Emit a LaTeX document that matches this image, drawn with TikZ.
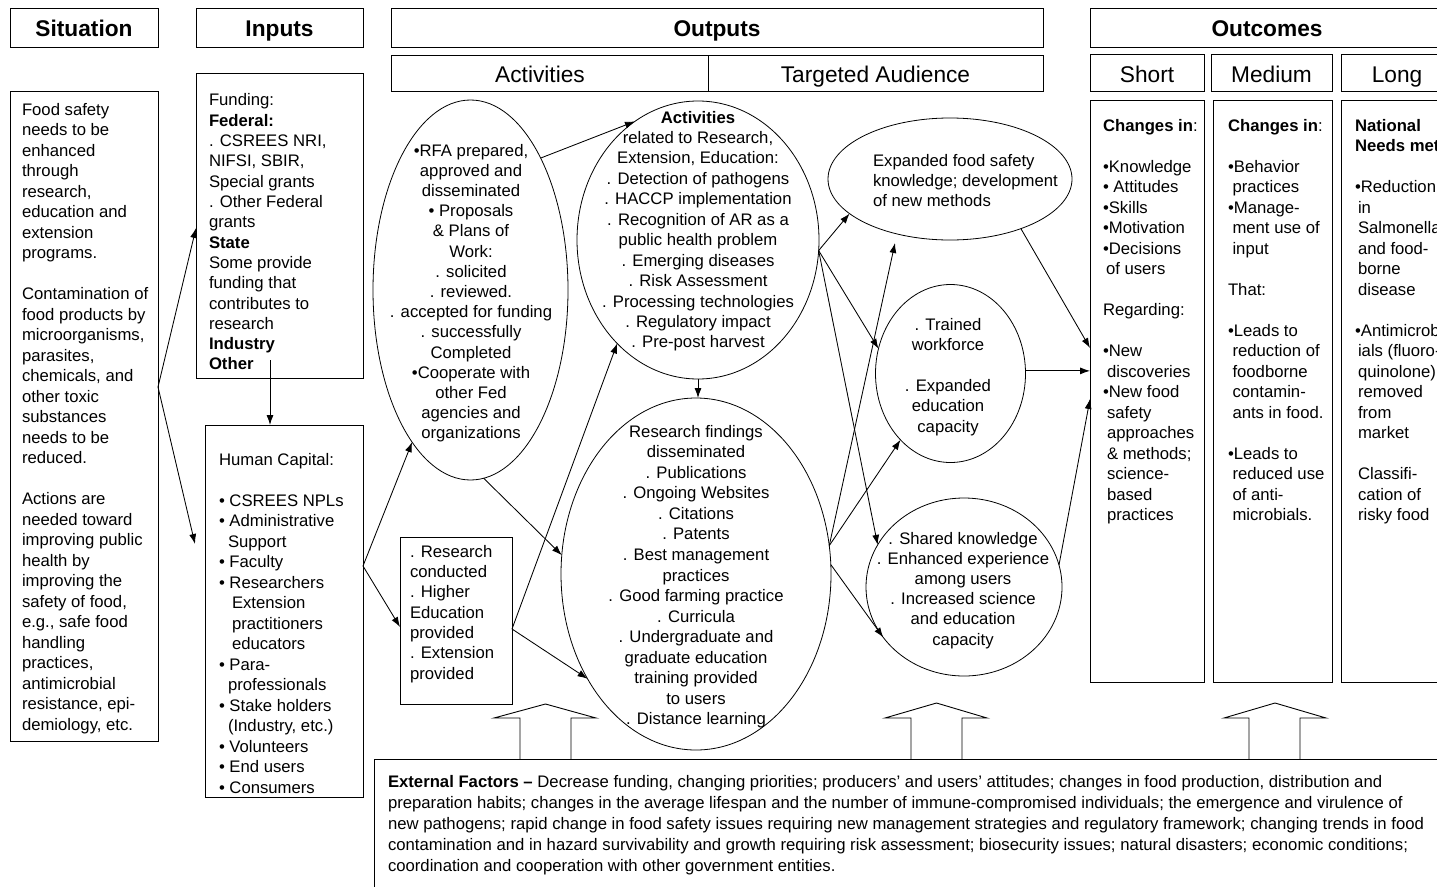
\documentclass[tikz,border=0pt]{standalone}
\usepackage{fontspec}
\setmainfont{Liberation Sans}
\usetikzlibrary{arrows.meta,shapes.geometric}

% body font with a chosen line spacing
\newcommand\fs[1]{\fontsize{16.7}{#1}\selectfont}
% fixed first-line height so that node tops map to baselines
\newcommand\ts{\rule{0pt}{14pt}}

\begin{document}
\begin{tikzpicture}[x=1pt,y=-1pt,
  frame/.style={draw, line width=1pt, inner sep=0pt, outer sep=0pt},
  hbold/.style={frame, font=\fontsize{22.7}{26}\selectfont\bfseries, text height=18.4pt, text depth=0pt},
  hreg/.style={frame, font=\fontsize{22.7}{26}\selectfont, text height=19pt, text depth=0pt},
  oval/.style={draw, ellipse, line width=0.8pt, inner sep=0pt, outer sep=0pt},
  txt/.style={inner sep=0pt, outer sep=0pt},
  conn/.style={-{Latex[length=10pt,width=7pt]}, line width=0.85pt},
  block/.style={line width=0.9pt, line join=miter},
]
\useasboundingbox (0,0) rectangle (1437,886);
\fill[white] (0,0) rectangle (1437,886);
\clip (0,0) rectangle (1437,886);

% ---------- column headers ----------
\node[hbold, minimum width=148pt, minimum height=39pt] (sitH) at (84,27.5) {Situation};
\node[hbold, minimum width=167pt, minimum height=39pt] (inH) at (279.5,27.5) {Inputs};
\node[hbold, minimum width=652pt, minimum height=39pt] (outH) at (717,27.5) {Outputs};
\node[hbold, minimum width=354pt, minimum height=39pt] (ocH) at (1267,27.5) {Outcomes};
\node[hreg, minimum width=317pt, minimum height=36pt] (actH) at (549.5,73) {\hspace*{-19pt}Activities};
\node[hreg, minimum width=335pt, minimum height=36pt] (audH) at (875.5,73) {Targeted Audience};
\node[hreg, minimum width=114pt, minimum height=37pt] (shortH) at (1147,72.5) {Short};
\node[hreg, minimum width=121pt, minimum height=37pt] (medH) at (1271.5,72.5) {Medium};
\node[hreg, minimum width=112pt, minimum height=37pt] (longH) at (1397,72.5) {Long};

% ---------- boxes ----------
\node[frame, minimum width=148pt, minimum height=650pt] (sit) at (84,416) {};
\node[frame, minimum width=167pt, minimum height=305pt] (fund) at (279.5,225.5) {};
\node[frame, minimum width=158pt, minimum height=372pt] (hc) at (284,611) {};
\node[frame, minimum width=112pt, minimum height=167pt] (rc) at (456,620.5) {};
\node[frame, minimum width=114pt, minimum height=582pt] (short) at (1147,391) {};
\node[frame, minimum width=119pt, minimum height=582pt] (med) at (1272.5,391) {};
\node[frame, minimum width=119pt, minimum height=582pt] (long) at (1400.5,391) {};
\node[frame, minimum width=1086pt, minimum height=141pt] (ext) at (917,829.5) {};

% ---------- ellipses ----------
\node[oval, minimum width=195pt, minimum height=380pt] (rfa) at (470.5,290) {};
\node[oval, minimum width=242pt, minimum height=278pt] (act) at (698,240) {};
\node[oval, minimum width=270pt, minimum height=352pt] (rf) at (696,574) {};
\node[oval, minimum width=244pt, minimum height=122pt] (efs) at (950,179) {};
\node[oval, minimum width=150pt, minimum height=178pt] (tw) at (950.5,373.5) {};
\node[oval, minimum width=196pt, minimum height=178pt] (sk) at (964,587) {};

% ---------- texts ----------
\node[txt, anchor=north west, align=left, font=\fs{20.5}] (sitT) at (22,101) {\ts Food safety\\needs to be\\enhanced\\through\\research,\\education and\\extension\\programs.\\[20.5pt]Contamination of\\food products by\\microorganisms,\\parasites,\\chemicals, and\\other toxic\\substances\\needs to be\\reduced.\\[20.5pt]Actions are\\needed toward\\improving public\\health by\\improving the\\safety of food,\\e.g., safe food\\handling\\practices,\\antimicrobial\\resistance, epi-\\demiology, etc.};

\node[txt, anchor=north west, align=left, font=\fs{20.33}] (fundT) at (209,91.7) {\ts Funding:\\\textbf{Federal:}\\. CSREES NRI,\\NIFSI, SBIR,\\Special grants\\. Other Federal\\grants\\\textbf{State}\\Some provide\\funding that\\contributes to\\research\\\textbf{Industry}\\\textbf{Other}};

\node[txt, anchor=north west, align=left, font=\fs{20.5}] (hcT) at (219,451) {\ts Human Capital:\\[20.5pt]• CSREES NPLs\\• Administrative\\\hspace*{9pt}Support\\• Faculty\\• Researchers\\\hspace*{13pt}Extension\\\hspace*{13pt}practitioners\\\hspace*{13pt}educators\\• Para-\\\hspace*{9pt}professionals\\• Stake holders\\\hspace*{9pt}(Industry, etc.)\\• Volunteers\\• End users\\• Consumers};

\node[txt, anchor=north west, align=left, font=\fs{20.3}] (rcT) at (410,543.3) {\ts . Research\\conducted\\. Higher\\Education\\provided\\. Extension\\provided};

\node[txt, anchor=north, align=center, font=\fs{20.2}] (rfaT) at (471,142) {\ts •RFA prepared,\\approved and\\disseminated\\• Proposals\\\& Plans of\\Work:\\. solicited\\. reviewed.\\. accepted for funding\\. successfully\\Completed\\•Cooperate with\\other Fed\\agencies and\\organizations};

\node[txt, anchor=north, align=center, font=\fs{20.45}] (actT) at (698,109) {\ts\textbf{Activities}\\related to Research,\\Extension, Education:\\. Detection of pathogens\\. HACCP implementation\\. Recognition of AR as a\\public health problem\\. Emerging diseases\\. Risk Assessment\\. Processing technologies\\. Regulatory impact\\. Pre-post harvest};

\node[txt, anchor=north, align=center, font=\fs{20.57}] (rfT) at (696,423) {\ts Research findings\\disseminated\\. Publications\\. Ongoing Websites\\. Citations\\. Patents\\. Best management\\practices\\. Good farming practice\\. Curricula\\. Undergraduate and\\graduate education\\training provided\\to users\\. Distance learning};

\node[txt, anchor=north west, align=left, font=\fs{20}] (efsT) at (873,152) {\ts Expanded food safety\\knowledge; development\\of new methods};

\node[txt, anchor=north, align=center, font=\fs{20.4}] (twT) at (948,316) {\ts . Trained\\workforce\\[20.4pt]. Expanded\\education\\capacity};

\node[txt, anchor=north, align=center, font=\fs{20.2}] (skT) at (963,530) {\ts . Shared knowledge\\. Enhanced experience\\among users\\. Increased science\\and education\\capacity};

\node[txt, anchor=north west, align=left, font=\fs{20.5}] (shortT) at (1103,117) {\ts\textbf{Changes in}:\\[20.5pt]•Knowledge\\• Attitudes\\•Skills\\•Motivation\\•Decisions\\\hspace*{3pt}of users\\[20.5pt]Regarding:\\[20.5pt]•New\\\hspace*{4pt}discoveries\\•New food\\\hspace*{4pt}safety\\\hspace*{4pt}approaches\\\hspace*{4pt}\& methods;\\\hspace*{4pt}science-\\\hspace*{4pt}based\\\hspace*{4pt}practices};

\node[txt, anchor=north west, align=left, font=\fs{20.5}] (medT) at (1228,117) {\ts\textbf{Changes in}:\\[20.5pt]•Behavior\\\hspace*{4.5pt}practices\\•Manage-\\\hspace*{4.5pt}ment use of\\\hspace*{4.5pt}input\\[20.5pt]That:\\[20.5pt]•Leads to\\\hspace*{4.5pt}reduction of\\\hspace*{4.5pt}foodborne\\\hspace*{4.5pt}contamin-\\\hspace*{4.5pt}ants in food.\\[20.5pt]•Leads to\\\hspace*{4.5pt}reduced use\\\hspace*{4.5pt}of anti-\\\hspace*{4.5pt}microbials.};

\node[txt, anchor=north west, align=left, font=\fs{20.5}] (longT) at (1355,117) {\ts\textbf{National}\\\textbf{Needs met}\\[20.5pt]•Reduction\\\hspace*{3pt}in\\\hspace*{3pt}Salmonella\\\hspace*{3pt}and food-\\\hspace*{3pt}borne\\\hspace*{3pt}disease\\[20.5pt]•Antimicrob-\\\hspace*{3pt}ials (fluoro-\\\hspace*{3pt}quinolone)\\\hspace*{3pt}removed\\\hspace*{3pt}from\\\hspace*{3pt}market\\[20.5pt]\hspace*{3pt}Classifi-\\\hspace*{3pt}cation of\\\hspace*{3pt}risky food};

\node[txt, anchor=north west, align=left, font=\fs{21.2}] (extT) at (388,773) {\ts\textbf{External Factors –} Decrease funding, changing priorities; producers’ and users’ attitudes; changes in food production, distribution and\\preparation habits; changes in the average lifespan and the number of immune-compromised individuals; the emergence and virulence of\\new pathogens; rapid change in food safety issues requiring new management strategies and regulatory framework; changing trends in food\\contamination and in hazard survivability and growth requiring risk assessment; biosecurity issues; natural disasters; economic conditions;\\coordination and cooperation with other government entities.};

% ---------- connectors ----------
\draw[conn] ([yshift=29pt]sit.east) -- ([yshift=-2.5pt]fund.west);
\draw[conn] ([yshift=29pt]sit.east) -- ([xshift=-10pt,yshift=67pt]hc.west);
\draw[conn] ([xshift=-9.5pt,yshift=18pt]fund.south) -- ([xshift=-14pt]hc.north);
\draw[conn] ([yshift=45pt]hc.east) -- (rfa.249);
\draw[conn] ([yshift=45pt]hc.east) -- ([yshift=-6.5pt]rc.west);
\draw[conn] ([yshift=-8.5pt]rc.east) -- (act.232);
\draw[conn] ([yshift=-8.5pt]rc.east) -- (rf.224.5);
\draw[conn] (rfa.62) -- (act.118);
\draw[conn] (act.south) -- (act.south |- rf.north);
\draw[conn] (rfa.274) -- (rf.172);
\draw[conn] (act.-5) -- (efs.199);
\draw[conn] (act.-5) -- (tw.161);
\draw[conn] (act.-5) -- (sk.154);
\draw[conn] (rf.12) -- ([xshift=-55pt,yshift=-3pt]efs.south);
\draw[conn] (rf.12) -- (tw.233);
\draw[conn] (rf.4) -- (sk.212);
\draw[conn] (efs.-35) -- ([yshift=43pt]short.west);
\draw[conn] (tw.2) -- (tw.2 -| short.west);
\draw[conn] (sk.13) -- ([yshift=-8pt]short.west);

% ---------- hollow up-arrows standing on the external factors box ----------
\draw[block] (520,759) -- (520,718) -- (494,718) -- (545.5,704) -- (596,718) -- (571,718) -- (571,759);
\draw[block] (911,759) -- (911,718) -- (885,718) -- (936.5,703) -- (987,718) -- (962,718) -- (962,759);
\draw[block] (1249,759) -- (1249,718) -- (1224,718) -- (1275,703) -- (1326,718) -- (1300,718) -- (1300,759);
\end{tikzpicture}
\end{document}
